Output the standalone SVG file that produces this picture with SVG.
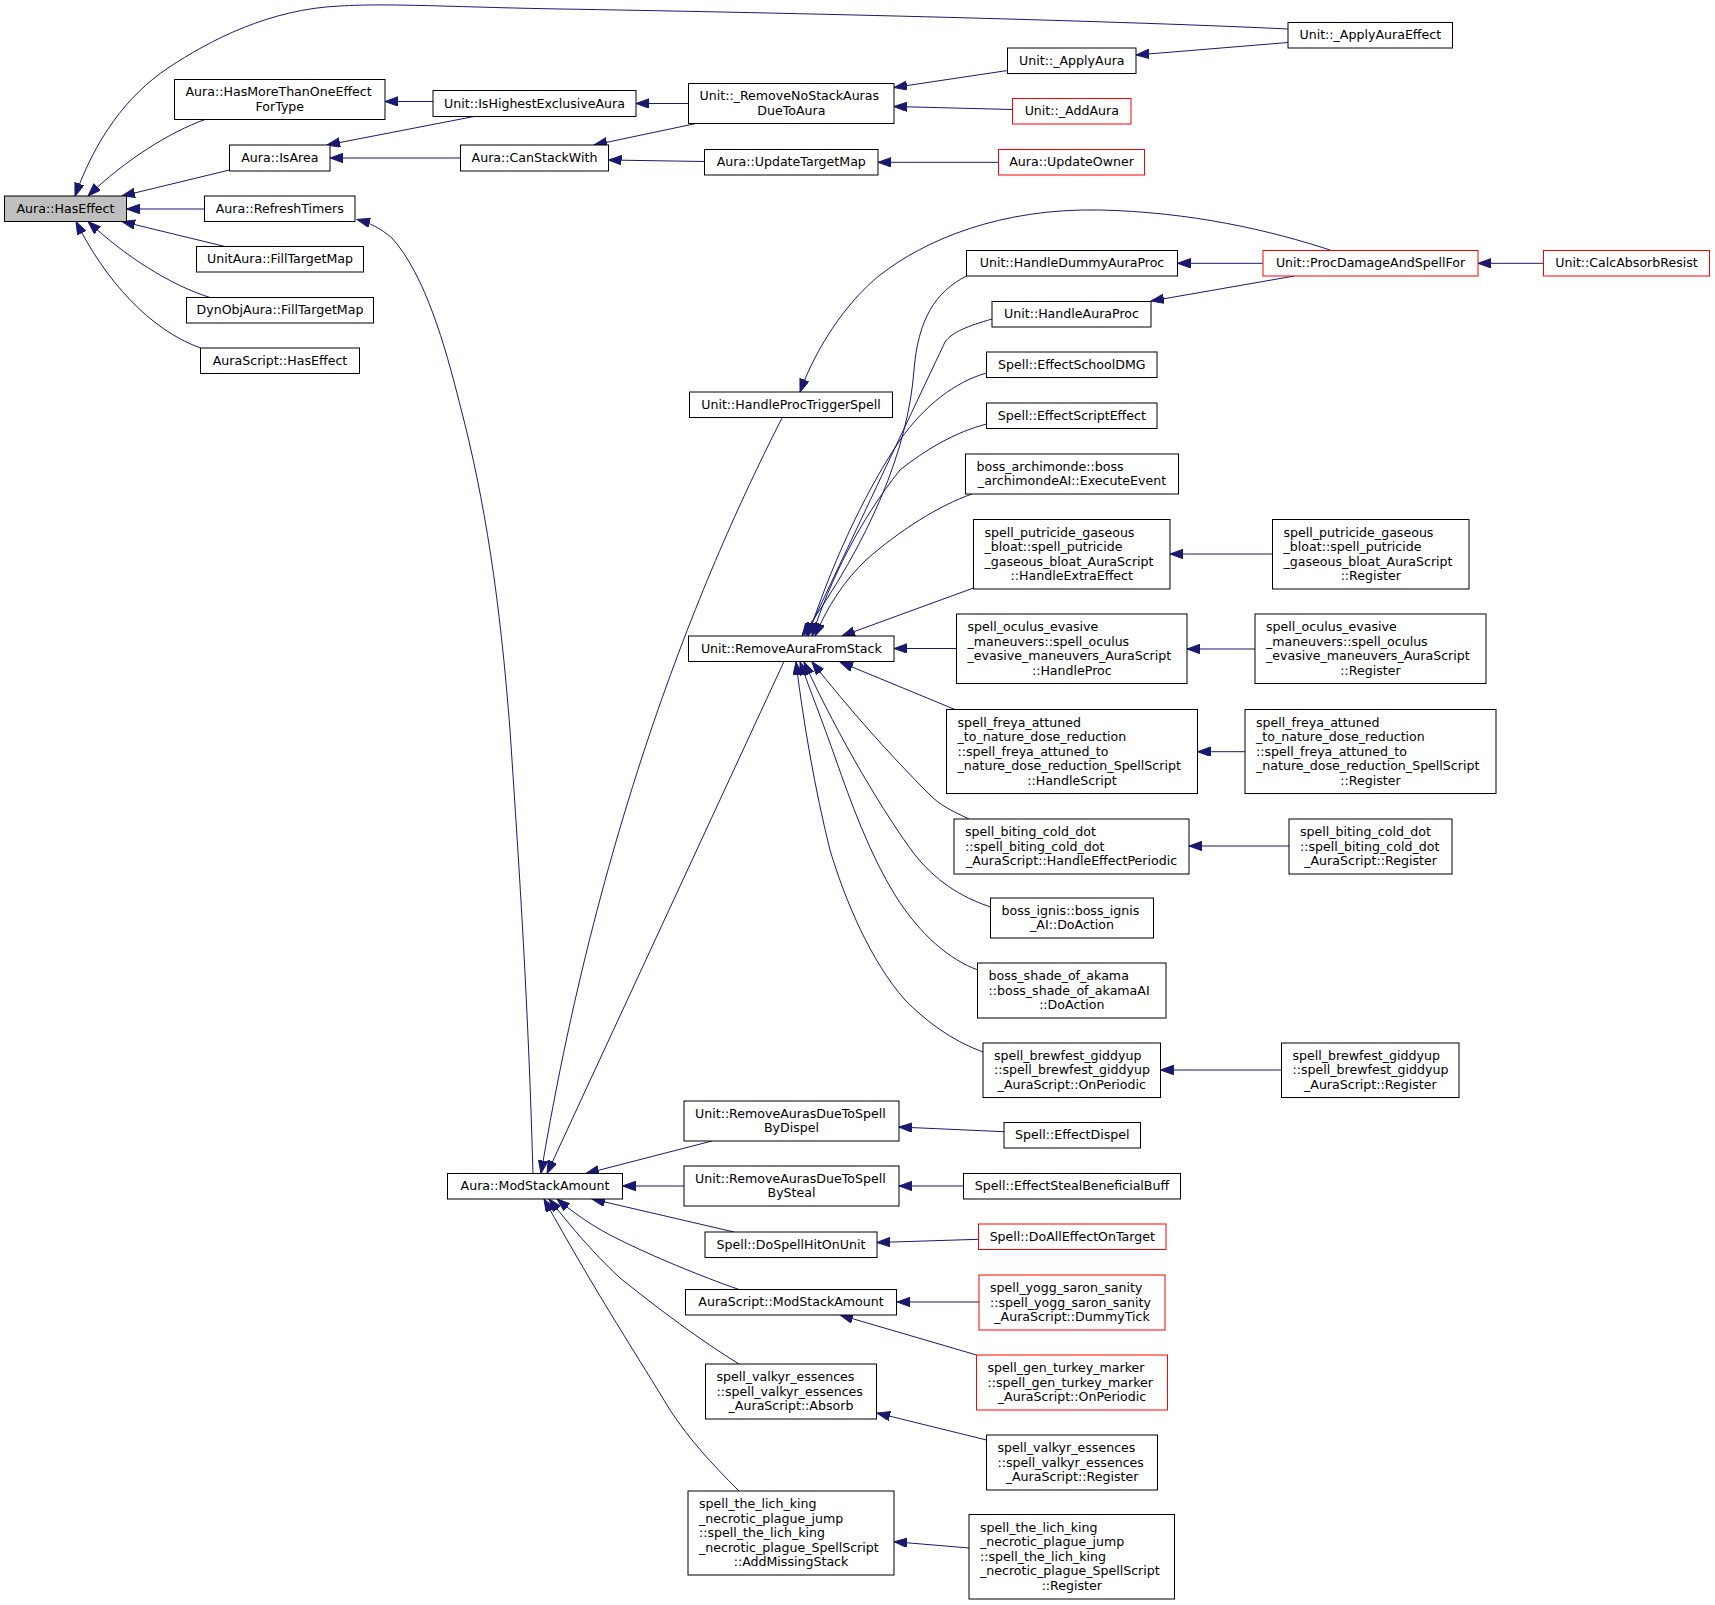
<svg xmlns="http://www.w3.org/2000/svg" width="1715" height="1605" viewBox="0 0 1715 1605">
<style>
.n rect{fill:#fff;stroke:#000;stroke-width:1}
.r rect{fill:#fff;stroke:#f00;stroke-width:1}
.g rect{fill:#bfbfbf;stroke:#000;stroke-width:1}
text{font-family:"DejaVu Sans","Liberation Sans",sans-serif;font-size:12.6px;fill:#000}
.m{text-anchor:middle}
.e path{fill:none;stroke:#191970;stroke-width:1}
</style>
<defs>
<marker id="ah" markerUnits="userSpaceOnUse" markerWidth="14" markerHeight="10" refX="13" refY="4.7" orient="auto">
<path d="M0,0 L13,4.7 L0,9.4 z" fill="#191970" stroke="#191970" stroke-width="1"/>
</marker>
</defs>
<rect width="1715" height="1605" fill="#fff"/>
<g id="edges" class="e" marker-end="url(#ah)">
<path d="M1288,29 C1100,20 750,12 560,9 C450,7 390,3 340,6 C270,9 210,40 168,68 C126,96 95,140 75,196"/>
<path d="M205,119.5 C170,132 125,160 88,196"/>
<path d="M229.5,170 L122,196"/>
<path d="M204.5,209 L126.5,209"/>
<path d="M225,246.5 L122,221.5"/>
<path d="M210,297.5 C170,285 125,256 88,221.5"/>
<path d="M200.5,348 C150,330 105,280 76,221.5"/>
<path d="M433,101.5 L385,101.5"/>
<path d="M474,116.5 L327,145"/>
<path d="M460.5,158 L330,158"/>
<path d="M688.5,103.5 L636,103.5"/>
<path d="M696,123.5 L594,145"/>
<path d="M704.5,161.5 L608.5,160"/>
<path d="M1007.5,70.5 L894,87.5"/>
<path d="M1012.5,109.5 L894,106.5"/>
<path d="M998.5,162.3 L878,162.3"/>
<path d="M1288,42.5 L1136,55"/>
<path d="M533,1173.5 C528,1000 520,880 510,730 C500,600 485,500 460,405 C445,345 425,275 392,238 C380,228 370,223 357,219.5"/>
<path d="M1333,251 C1270,230 1190,212 1100,210 C1000,208 925,240 880,275 C845,303 815,350 800,392"/>
<path d="M782,418 C720,540 605,790 541,1173.5"/>
<path d="M784,661.5 L547,1173.5"/>
<path d="M712,1141 L586,1173.5"/>
<path d="M684,1186 L622.5,1186"/>
<path d="M734,1232 L592,1199"/>
<path d="M739,1289.5 C700,1276 650,1255 620,1240 C595,1228 575,1214 557,1199"/>
<path d="M739,1364 C700,1340 660,1310 620,1278 C590,1250 570,1225 549,1199"/>
<path d="M739,1491 C710,1462 690,1440 670,1410 C640,1360 600,1300 544,1199"/>
<path d="M966.5,276 C935,292 918,320 914,370 C908,450 870,540 802,636"/>
<path d="M992,319 C968,326 952,332 945,342 L806,636"/>
<path d="M986.5,373 C955,382 925,405 900,440 C860,500 830,570 808,636"/>
<path d="M986.5,424 C955,432 925,450 900,470 C860,520 830,580 812,636"/>
<path d="M972,494 C940,505 900,530 866,560 C845,580 828,605 815,636"/>
<path d="M973.5,588 L842,636"/>
<path d="M956.5,648.5 L894,648.5"/>
<path d="M955,709.5 L840,662"/>
<path d="M969,819 C950,810 940,805 930,795 C890,755 850,710 812,662"/>
<path d="M990.5,907 C960,897 935,880 915,855 C885,815 840,740 804,662"/>
<path d="M978,970 C950,960 920,935 895,895 C870,855 850,800 836,760 C822,720 810,690 800,662"/>
<path d="M983,1052 C950,1040 925,1020 905,1000 C870,960 845,900 830,850 C815,790 803,720 796,662"/>
<path d="M1263,263.3 L1177.5,263.3"/>
<path d="M1294.5,276 L1151,301"/>
<path d="M1543.5,263.3 L1478,263.3"/>
<path d="M1272.5,554 L1170,554"/>
<path d="M1255,649 L1187,649"/>
<path d="M1245,751.7 L1197.5,751.7"/>
<path d="M1289,846 L1189,846"/>
<path d="M1281.5,1070 L1160.5,1070"/>
<path d="M1004,1131.7 L899,1127"/>
<path d="M963.5,1186 L899,1186"/>
<path d="M978.5,1239.3 L877,1242.5"/>
<path d="M979,1302 L897,1302"/>
<path d="M976.5,1355 L840,1315"/>
<path d="M986.5,1440 L877,1413"/>
<path d="M969,1548 L894,1541.7"/>
</g>
<g id="n0" class="g"><rect x="4.5" y="196" width="122" height="25.5"/><text class="m" x="65.5" y="212.8">Aura::HasEffect</text></g>
<g id="n1" class="n"><rect x="174.5" y="79.5" width="210.5" height="40"/><text x="185.5" y="96.3">Aura::HasMoreThanOneEffect</text><text class="m" x="279.8" y="110.8">ForType</text></g>
<g id="n2" class="n"><rect x="229.5" y="145" width="100.5" height="26"/><text class="m" x="279.8" y="162">Aura::IsArea</text></g>
<g id="n3" class="n"><rect x="204.5" y="196" width="150.5" height="25.5"/><text class="m" x="279.8" y="212.8">Aura::RefreshTimers</text></g>
<g id="n4" class="n"><rect x="196.5" y="246.5" width="167" height="25.5"/><text class="m" x="280" y="263.3">UnitAura::FillTargetMap</text></g>
<g id="n5" class="n"><rect x="186.5" y="297.5" width="187" height="25.5"/><text class="m" x="280" y="314.3">DynObjAura::FillTargetMap</text></g>
<g id="n6" class="n"><rect x="200.5" y="348" width="159" height="25.5"/><text class="m" x="280" y="364.8">AuraScript::HasEffect</text></g>
<g id="n7" class="n"><rect x="433" y="90.5" width="203" height="26"/><text class="m" x="534.5" y="107.5">Unit::IsHighestExclusiveAura</text></g>
<g id="n8" class="n"><rect x="460.5" y="145" width="148" height="26"/><text class="m" x="534.5" y="162">Aura::CanStackWith</text></g>
<g id="n9" class="n"><rect x="447.5" y="1173.5" width="175" height="25.5"/><text class="m" x="535" y="1190.3">Aura::ModStackAmount</text></g>
<g id="n10" class="n"><rect x="688.5" y="83.5" width="205.5" height="40"/><text x="699.5" y="100.3">Unit::_RemoveNoStackAuras</text><text class="m" x="791.3" y="114.8">DueToAura</text></g>
<g id="n11" class="n"><rect x="704.5" y="149.5" width="173.5" height="25.5"/><text class="m" x="791.3" y="166.3">Aura::UpdateTargetMap</text></g>
<g id="n12" class="n"><rect x="689.5" y="392" width="203" height="25.5"/><text class="m" x="791" y="408.8">Unit::HandleProcTriggerSpell</text></g>
<g id="n13" class="n"><rect x="688.5" y="636" width="205.5" height="25.5"/><text class="m" x="791.3" y="652.8">Unit::RemoveAuraFromStack</text></g>
<g id="n14" class="n"><rect x="684" y="1101" width="215" height="40"/><text x="695" y="1117.8">Unit::RemoveAurasDueToSpell</text><text class="m" x="791.5" y="1132.3">ByDispel</text></g>
<g id="n15" class="n"><rect x="684" y="1166" width="215" height="40"/><text x="695" y="1182.8">Unit::RemoveAurasDueToSpell</text><text class="m" x="791.5" y="1197.3">BySteal</text></g>
<g id="n16" class="n"><rect x="705" y="1232" width="172" height="25.5"/><text class="m" x="791" y="1248.8">Spell::DoSpellHitOnUnit</text></g>
<g id="n17" class="n"><rect x="685.5" y="1289.5" width="211" height="25.5"/><text class="m" x="791" y="1306.3">AuraScript::ModStackAmount</text></g>
<g id="n18" class="n"><rect x="705.5" y="1364" width="171" height="55"/><text x="716.5" y="1381">spell_valkyr_essences</text><text x="716.5" y="1395.5">::spell_valkyr_essences</text><text class="m" x="791" y="1410">_AuraScript::Absorb</text></g>
<g id="n19" class="n"><rect x="688" y="1491" width="206" height="84"/><text x="699" y="1508">spell_the_lich_king</text><text x="699" y="1522.5">_necrotic_plague_jump</text><text x="699" y="1537">::spell_the_lich_king</text><text x="699" y="1551.5">_necrotic_plague_SpellScript</text><text class="m" x="791" y="1566">::AddMissingStack</text></g>
<g id="n20" class="n"><rect x="1007.5" y="48" width="128.5" height="25.5"/><text class="m" x="1071.8" y="64.8">Unit::_ApplyAura</text></g>
<g id="n21" class="r"><rect x="1012.5" y="98.5" width="118.5" height="25.5"/><text class="m" x="1071.8" y="115.3">Unit::_AddAura</text></g>
<g id="n22" class="r"><rect x="998.5" y="149.5" width="146" height="25.5"/><text class="m" x="1071.5" y="166.3">Aura::UpdateOwner</text></g>
<g id="n23" class="n"><rect x="966.5" y="250.5" width="211" height="25.5"/><text class="m" x="1072" y="267.3">Unit::HandleDummyAuraProc</text></g>
<g id="n24" class="n"><rect x="992" y="301.5" width="159" height="25.5"/><text class="m" x="1071.5" y="318.3">Unit::HandleAuraProc</text></g>
<g id="n25" class="n"><rect x="986.5" y="352" width="170.5" height="25.5"/><text class="m" x="1071.8" y="368.8">Spell::EffectSchoolDMG</text></g>
<g id="n26" class="n"><rect x="986.5" y="403" width="170.5" height="25.5"/><text class="m" x="1071.8" y="419.8">Spell::EffectScriptEffect</text></g>
<g id="n27" class="n"><rect x="965.5" y="454" width="213" height="40"/><text x="976.5" y="470.8">boss_archimonde::boss</text><text class="m" x="1072" y="485.3">_archimondeAI::ExecuteEvent</text></g>
<g id="n28" class="n"><rect x="973.5" y="519.5" width="196.5" height="69.5"/><text x="984.5" y="536.5">spell_putricide_gaseous</text><text x="984.5" y="551">_bloat::spell_putricide</text><text x="984.5" y="565.5">_gaseous_bloat_AuraScript</text><text class="m" x="1071.8" y="580">::HandleExtraEffect</text></g>
<g id="n29" class="n"><rect x="956.5" y="614" width="230.5" height="69.5"/><text x="967.5" y="631">spell_oculus_evasive</text><text x="967.5" y="645.5">_maneuvers::spell_oculus</text><text x="967.5" y="660">_evasive_maneuvers_AuraScript</text><text class="m" x="1071.8" y="674.5">::HandleProc</text></g>
<g id="n30" class="n"><rect x="946.5" y="709.5" width="251" height="84"/><text x="957.5" y="726.5">spell_freya_attuned</text><text x="957.5" y="741">_to_nature_dose_reduction</text><text x="957.5" y="755.5">::spell_freya_attuned_to</text><text x="957.5" y="770">_nature_dose_reduction_SpellScript</text><text class="m" x="1072" y="784.5">::HandleScript</text></g>
<g id="n31" class="n"><rect x="954" y="819" width="235" height="55"/><text x="965" y="836">spell_biting_cold_dot</text><text x="965" y="850.5">::spell_biting_cold_dot</text><text class="m" x="1071.5" y="865">_AuraScript::HandleEffectPeriodic</text></g>
<g id="n32" class="n"><rect x="990.5" y="898" width="163" height="40"/><text x="1001.5" y="914.8">boss_ignis::boss_ignis</text><text class="m" x="1072" y="929.3">_AI::DoAction</text></g>
<g id="n33" class="n"><rect x="977.5" y="963" width="188.5" height="55"/><text x="988.5" y="980">boss_shade_of_akama</text><text x="988.5" y="994.5">::boss_shade_of_akamaAI</text><text class="m" x="1071.8" y="1009">::DoAction</text></g>
<g id="n34" class="n"><rect x="983" y="1043" width="177.5" height="54.5"/><text x="994" y="1059.8">spell_brewfest_giddyup</text><text x="994" y="1074.3">::spell_brewfest_giddyup</text><text class="m" x="1071.8" y="1088.8">_AuraScript::OnPeriodic</text></g>
<g id="n35" class="n"><rect x="1004" y="1122.5" width="136.5" height="25.5"/><text class="m" x="1072.3" y="1139.3">Spell::EffectDispel</text></g>
<g id="n36" class="n"><rect x="963.5" y="1173.5" width="217" height="25.5"/><text class="m" x="1072" y="1190.3">Spell::EffectStealBeneficialBuff</text></g>
<g id="n37" class="r"><rect x="978.5" y="1224" width="187.5" height="25.5"/><text class="m" x="1072.3" y="1240.8">Spell::DoAllEffectOnTarget</text></g>
<g id="n38" class="r"><rect x="979" y="1275" width="186" height="55"/><text x="990" y="1292">spell_yogg_saron_sanity</text><text x="990" y="1306.5">::spell_yogg_saron_sanity</text><text class="m" x="1072" y="1321">_AuraScript::DummyTick</text></g>
<g id="n39" class="r"><rect x="976.5" y="1355" width="191" height="55"/><text x="987.5" y="1372">spell_gen_turkey_marker</text><text x="987.5" y="1386.5">::spell_gen_turkey_marker</text><text class="m" x="1072" y="1401">_AuraScript::OnPeriodic</text></g>
<g id="n40" class="n"><rect x="986.5" y="1435" width="171" height="55"/><text x="997.5" y="1452">spell_valkyr_essences</text><text x="997.5" y="1466.5">::spell_valkyr_essences</text><text class="m" x="1072" y="1481">_AuraScript::Register</text></g>
<g id="n41" class="n"><rect x="969" y="1514.5" width="205.5" height="84.5"/><text x="980" y="1531.8">spell_the_lich_king</text><text x="980" y="1546.3">_necrotic_plague_jump</text><text x="980" y="1560.8">::spell_the_lich_king</text><text x="980" y="1575.3">_necrotic_plague_SpellScript</text><text class="m" x="1071.8" y="1589.8">::Register</text></g>
<g id="n42" class="n"><rect x="1288" y="22.5" width="164.5" height="25.5"/><text class="m" x="1370.3" y="39.3">Unit::_ApplyAuraEffect</text></g>
<g id="n43" class="r"><rect x="1263" y="250.5" width="215" height="25.5"/><text class="m" x="1370.5" y="267.3">Unit::ProcDamageAndSpellFor</text></g>
<g id="n44" class="n"><rect x="1272.5" y="519.5" width="196.5" height="69.5"/><text x="1283.5" y="536.5">spell_putricide_gaseous</text><text x="1283.5" y="551">_bloat::spell_putricide</text><text x="1283.5" y="565.5">_gaseous_bloat_AuraScript</text><text class="m" x="1370.8" y="580">::Register</text></g>
<g id="n45" class="n"><rect x="1255" y="614" width="231" height="69.5"/><text x="1266" y="631">spell_oculus_evasive</text><text x="1266" y="645.5">_maneuvers::spell_oculus</text><text x="1266" y="660">_evasive_maneuvers_AuraScript</text><text class="m" x="1370.5" y="674.5">::Register</text></g>
<g id="n46" class="n"><rect x="1245" y="709.5" width="251" height="84"/><text x="1256" y="726.5">spell_freya_attuned</text><text x="1256" y="741">_to_nature_dose_reduction</text><text x="1256" y="755.5">::spell_freya_attuned_to</text><text x="1256" y="770">_nature_dose_reduction_SpellScript</text><text class="m" x="1370.5" y="784.5">::Register</text></g>
<g id="n47" class="n"><rect x="1289" y="819" width="163" height="55"/><text x="1300" y="836">spell_biting_cold_dot</text><text x="1300" y="850.5">::spell_biting_cold_dot</text><text class="m" x="1370.5" y="865">_AuraScript::Register</text></g>
<g id="n48" class="n"><rect x="1281.5" y="1043" width="177.5" height="54.5"/><text x="1292.5" y="1059.8">spell_brewfest_giddyup</text><text x="1292.5" y="1074.3">::spell_brewfest_giddyup</text><text class="m" x="1370.3" y="1088.8">_AuraScript::Register</text></g>
<g id="n49" class="r"><rect x="1543.5" y="250.5" width="166" height="25.5"/><text class="m" x="1626.5" y="267.3">Unit::CalcAbsorbResist</text></g>
</svg>
